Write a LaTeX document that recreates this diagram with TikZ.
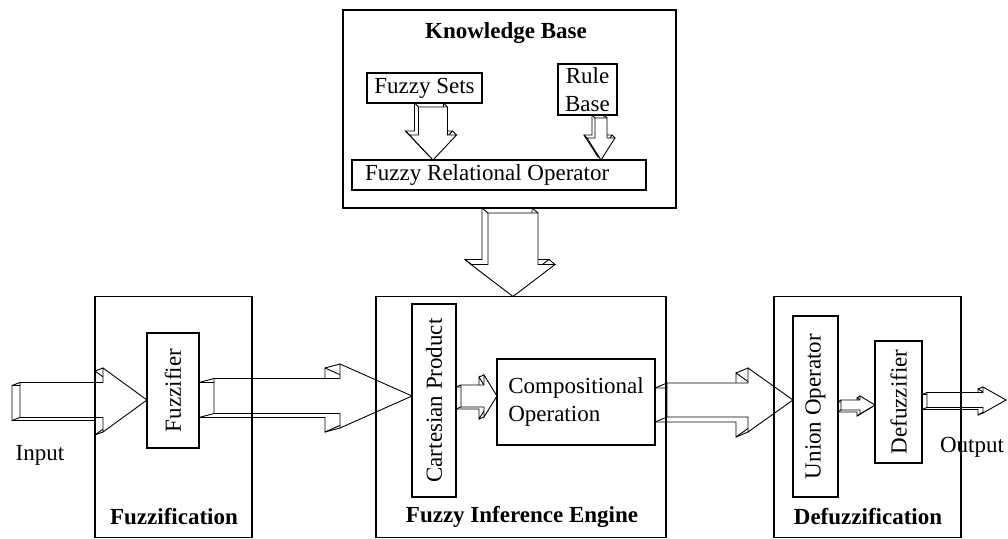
\documentclass[tikz,border=0pt]{standalone}
\usepackage{fontspec}
\setmainfont{Liberation Serif}
\usetikzlibrary{calc}
\pgfdeclarelayer{arrows}
\pgfsetlayers{arrows,main}

% 3-D block arrow pointing right.
% #1 tail (front face), #2 tip, #3 shaft half-width, #4 head half-width,
% #5 head length, #6/#7 offset of the back face
\newcommand\blockright[7]{%
  \draw[arrowface]
    ($(#1)+(#6,#7-#3)$) -- ($(#2)+(#6-#5,#7-#3)$) -- ($(#2)+(#6-#5,#7-#4)$) -- ($(#2)+(#6,#7)$)
    -- ($(#2)+(#6-#5,#7+#4)$) -- ($(#2)+(#6-#5,#7+#3)$) -- ($(#1)+(#6,#7+#3)$) -- cycle;
  \draw[arrowedge]
    ($(#1)+(0,-#3)$) -- ++(#6,#7)
    ($(#1)+(0,#3)$) -- ++(#6,#7)
    ($(#2)+(-#5,-#4)$) -- ++(#6,#7)
    ($(#2)+(-#5,#4)$) -- ++(#6,#7);
  \draw[arrowface]
    ($(#1)+(0,-#3)$) -- ($(#2)+(-#5,-#3)$) -- ($(#2)+(-#5,-#4)$) -- (#2)
    -- ($(#2)+(-#5,#4)$) -- ($(#2)+(-#5,#3)$) -- ($(#1)+(0,#3)$) -- cycle;
}
% 3-D block arrow pointing down, same arguments
\newcommand\blockdown[7]{%
  \draw[arrowface]
    ($(#1)+(#6-#3,#7)$) -- ($(#2)+(#6-#3,#7-#5)$) -- ($(#2)+(#6-#4,#7-#5)$) -- ($(#2)+(#6,#7)$)
    -- ($(#2)+(#6+#4,#7-#5)$) -- ($(#2)+(#6+#3,#7-#5)$) -- ($(#1)+(#6+#3,#7)$) -- cycle;
  \draw[arrowedge]
    ($(#1)+(-#3,0)$) -- ++(#6,#7)
    ($(#1)+(#3,0)$) -- ++(#6,#7)
    ($(#2)+(-#4,-#5)$) -- ++(#6,#7)
    ($(#2)+(#4,-#5)$) -- ++(#6,#7);
  \draw[arrowface]
    ($(#1)+(-#3,0)$) -- ($(#2)+(-#3,-#5)$) -- ($(#2)+(-#4,-#5)$) -- (#2)
    -- ($(#2)+(#4,-#5)$) -- ($(#2)+(#3,-#5)$) -- ($(#1)+(#3,0)$) -- cycle;
}

\begin{document}
\begin{tikzpicture}[x=1pt,y=-1pt,
  box/.style={draw, line width=1.1pt, inner sep=0pt, outer sep=0pt, rectangle},
  txt/.style={font=\fontsize{23}{28}\selectfont},
  title/.style={font=\fontsize{23}{28}\selectfont\bfseries, inner sep=0pt},
  arrowface/.style={draw, line width=0.9pt, fill=white, line join=miter},
  arrowedge/.style={draw, line width=0.9pt}]
\useasboundingbox (0,0) rectangle (1008,538);

% knowledge base
\node[box, minimum width=333, minimum height=198] (kb) at (509.5,109) {};
\node[title] (kbtitle) at (506,33) {Knowledge Base};
\node[box, txt, minimum width=115, minimum height=30] (fsets) at (424.5,88) {Fuzzy Sets};
\node[box, txt, minimum width=59, minimum height=51, align=center] (rbase) at (587.5,89.5) {Rule\\Base};
\node[box, txt, minimum width=294, minimum height=30] (fro) at (499,175) {};
\node[txt, anchor=west, inner sep=0pt] (frotext) at (365,175) {Fuzzy Relational Operator};

% fuzzification stage
\node[box, minimum width=157, minimum height=241] (fuzzification) at (173.5,417) {};
\node[box, txt, minimum width=52, minimum height=115] (fuzzifier) at (173,390.5) {\rotatebox{90}{Fuzzifier}};
\node[title] (fuzztitle) at (174,517) {Fuzzification};

% inference engine
\node[box, minimum width=290, minimum height=241] (inference) at (521,417) {};
\node[box, txt, minimum width=44, minimum height=193] (cartesian) at (434,400.5) {\rotatebox{90}{Cartesian Product}};
\node[box, txt, minimum width=158, minimum height=86, align=left] (compositional) at (576,402) {Compositional\\Operation};
\node[title] (inftitle) at (522,517) {Fuzzy Inference Engine};

% defuzzification stage
\node[box, minimum width=187, minimum height=241] (defuzzification) at (867.5,417) {};
\node[box, txt, minimum width=45, minimum height=181] (union) at (815.5,406.5) {\rotatebox{90}{Union Operator}};
\node[box, txt, minimum width=47, minimum height=122] (defuzzifier) at (898.5,402) {\rotatebox{90}{Defuzzifier}};
\node[title] (defuzztitle) at (868,517) {Defuzzification};

% input and output
\coordinate (in) at (20,400);
\coordinate (out) at (1006,400);
\node[txt] (inlabel) at (40,455) {Input};
\node[txt] (outlabel) at (972,447) {Output};

\begin{pgfonlayer}{arrows}
  \blockright{in}{fuzzifier.west |- 0,400}{17.5}{32}{44}{-8}{3}
  \blockright{$(fuzzifier.east |- 0,396)+(15,0)$}{cartesian.west |- 0,396}{17.5}{32}{72}{-15}{4}
  \blockright{$(cartesian.east |- 0,396)+(5,0)$}{compositional.west |- 0,396}{11}{21}{13}{-5}{2}
  \blockright{$(compositional.east |- 0,400)+(12,0)$}{union.west |- 0,400}{17}{32}{45}{-12}{5}
  \blockright{$(union.east |- 0,405)+(3,0)$}{defuzzifier.west |- 0,405}{5}{9}{15}{-3}{2}
  \blockright{$(defuzzifier.east |- 0,400)+(5,0)$}{out}{7.5}{13}{23}{-5}{2}
  \blockdown{$(fsets.south -| 433,0)+(0,4)$}{fro.north -| 433,0}{14.5}{23.5}{25}{-4}{-4}
  \blockdown{$(rbase.south -| 601,0)+(0,3)$}{fro.north -| 601,0}{6}{14}{22}{-3}{-3}
  \blockdown{$(kb.south -| 513,0)+(0,5)$}{inference.north -| 513,0}{25}{42}{32}{-6}{-5}
\end{pgfonlayer}
\end{tikzpicture}
\end{document}
